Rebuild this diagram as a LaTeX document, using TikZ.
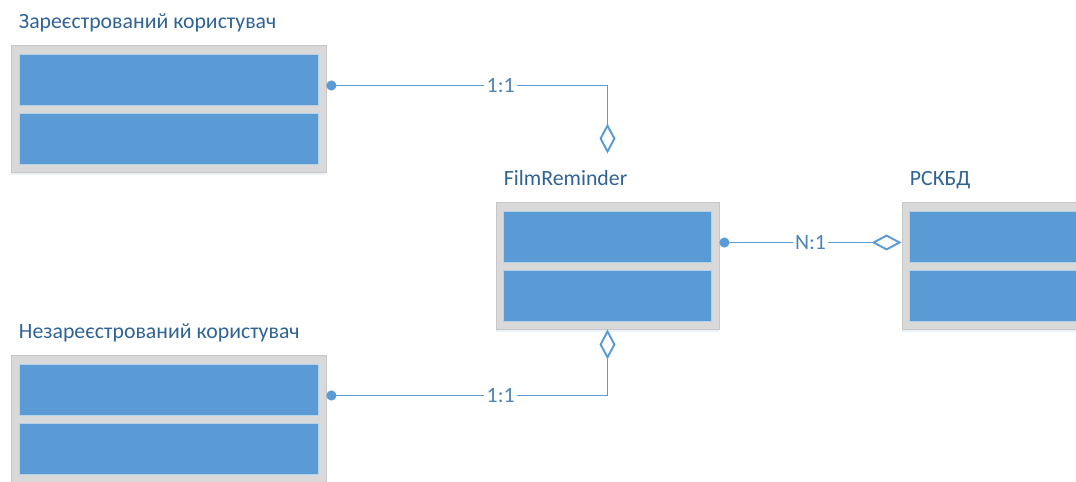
\documentclass[tikz,border=0pt]{standalone}
\usepackage{fontspec}
\setmainfont{Carlito}
\usetikzlibrary{arrows.meta,positioning,shadows}
\definecolor{linkblue}{HTML}{5B9BD5}
\definecolor{rowblue}{HTML}{5B9BD5}
\definecolor{titleblue}{HTML}{2F6396}
\definecolor{framegray}{HTML}{D9D9D9}
\tikzset{
  entity/.style = {
    draw=black!22, fill=framegray, line width=0.5pt, inner sep=0pt,
    minimum height=2.54cm,
    drop shadow={shadow xshift=0pt, shadow yshift=-0.07cm, fill=linkblue!40, opacity=0.3}
  },
  row/.style = {draw=linkblue!45!white, fill=rowblue, line width=0.5pt, inner sep=0pt, minimum height=1.02cm},
  title/.style = {text=titleblue, font=\fontsize{12.4}{14}\selectfont, anchor=base west, inner sep=0pt},
  card/.style = {fill=white, text=linkblue!85!black, font=\fontsize{12.4}{14}\selectfont, inner sep=0.05cm},
  link/.style = {
    draw=linkblue, line width=1.1pt,
    {Circle[length=0.2cm]}-{Diamond[length=0.6cm, width=0.32cm, fill=white]}
  }
}

\begin{document}
\begin{tikzpicture}[x=0.02cm,y=-0.02cm]
  \clip (0,0) rectangle (1076,482);

  % entities
  \node[entity, minimum width=6.3cm] (reg) at (168.5,108.5) {};
  \node[row, minimum width=5.98cm, below=0.18cm of reg.north] (reg-a) {};
  \node[row, minimum width=5.98cm, below=0.16cm of reg-a] (reg-b) {};
  \node[title] (reg-t) at ([xshift=0.16cm, yshift=0.32cm]reg.north west) {Зареєстрований користувач};

  \node[entity, minimum width=6.3cm] (unreg) at (168.5,418.5) {};
  \node[row, minimum width=5.98cm, below=0.18cm of unreg.north] (unreg-a) {};
  \node[row, minimum width=5.98cm, below=0.16cm of unreg-a] (unreg-b) {};
  \node[title] (unreg-t) at ([xshift=0.16cm, yshift=0.32cm]unreg.north west) {Незареєстрований користувач};

  \node[entity, minimum width=4.46cm] (fr) at (607.5,265.5) {};
  \node[row, minimum width=4.16cm, below=0.18cm of fr.north] (fr-a) {};
  \node[row, minimum width=4.16cm, below=0.16cm of fr-a] (fr-b) {};
  \node[title] (fr-t) at ([xshift=0.16cm, yshift=0.32cm]fr.north west) {FilmReminder};

  \node[entity, minimum width=4.46cm] (db) at (1013.5,265.5) {};
  \node[row, minimum width=4.16cm, below=0.18cm of db.north] (db-a) {};
  \node[row, minimum width=4.16cm, below=0.16cm of db-a] (db-b) {};
  \node[title] (db-t) at ([xshift=0.16cm, yshift=0.32cm]db.north west) {РСКБД};

  % connection points
  \coordinate (reg-out) at ([yshift=0.46cm]reg.east);
  \coordinate (unreg-out) at ([yshift=0.46cm]unreg.east);
  \coordinate (fr-out) at ([yshift=0.46cm]fr.east);
  \coordinate (fr-top) at ([yshift=0.96cm]fr.north);

  % relations
  \draw[link] (reg-out) -- node[card, pos=0.62] {1:1} (reg-out -| fr-top) -- (fr-top);
  \draw[link] (unreg-out) -- node[card, pos=0.62] {1:1} (unreg-out -| fr.south) -- (fr.south);
  \draw[link] (fr-out) -- node[card] {N:1} (fr-out -| db.west);
\end{tikzpicture}
\end{document}
